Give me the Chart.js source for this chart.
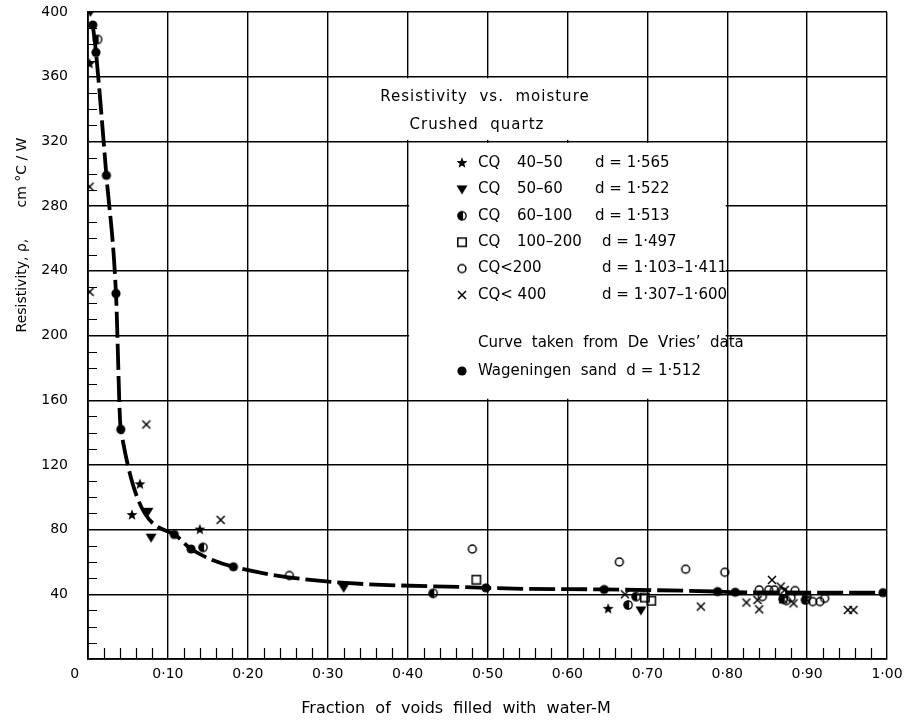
<!DOCTYPE html>
<html>
<head>
<meta charset="utf-8">
<script src="https://cdn.jsdelivr.net/npm/chart.js@4.4.0/dist/chart.umd.min.js"></script>
<style>
  html, body { margin: 0; padding: 0; background: #fff; }
  canvas { display: block; }
</style>
</head>
<body>
<canvas id="grafico" width="912" height="724"></canvas>
<script>
// Wageningen sand (curve from De Vries' data)
const wagX = [0.006, 0.010, 0.023, 0.035, 0.041, 0.108, 0.129, 0.182, 0.498, 0.646, 0.788, 0.810, 0.995];
const wagY = [392, 375, 299, 226, 142, 77, 68, 57, 44, 43, 41.7, 41.3, 41];

// CQ 40-50
const cq40X = [0.002, 0.055, 0.065, 0.140, 0.651];
const cq40Y = [368, 89, 108, 80, 31];
// CQ 50-60
const cq50X = [0.003, 0.075, 0.079, 0.320, 0.692];
const cq50Y = [400, 91, 75, 44, 30];
// CQ 60-100
const cq60X = [0.012, 0.144, 0.432, 0.676, 0.686, 0.870, 0.898];
const cq60Y = [383, 69, 40.6, 33.4, 38.6, 37, 36.5];
// CQ 100-200
const cq100X = [0.486, 0.697, 0.705];
const cq100Y = [49, 38, 36];
// CQ<200
const cq200X = [0.252, 0.481, 0.665, 0.748, 0.797, 0.840, 0.844, 0.852, 0.859, 0.870, 0.874, 0.880, 0.885, 0.900, 0.907, 0.916, 0.922];
const cq200Y = [51.6, 68, 60, 55.5, 53.6, 42.7, 38.6, 42.7, 42.7, 41.3, 36.1, 38, 42.3, 38.6, 35.5, 35.5, 37.5];
// CQ<400
const cq400X = [0.002, 0.002, 0.073, 0.166, 0.672, 0.767, 0.824, 0.838, 0.840, 0.856, 0.867, 0.872, 0.870, 0.883, 0.899, 0.951, 0.958];
const cq400Y = [292, 227, 145, 86, 40, 32.4, 34.9, 36.5, 30.7, 48.9, 44.8, 42.7, 36.9, 34.4, 36.9, 30.3, 30.3];

const xTicks = ["0      ", "0·10", "0·20", "0·30", "0·40", "0·50", "0·60", "0·70", "0·80", "0·90", "1·00"];
const yTicks = ["", "40", "80", "120", "160", "200", "240", "280", "320", "360", "400"];

const puntos = (xs, ys) => xs.map((x, i) => ({ x: x, y: ys[i] }));

// marcadores dibujados en pequeños canvas
const marcador = (size, draw) => {
    const c = document.createElement("canvas");
    c.width = size; c.height = size;
    const g = c.getContext("2d");
    g.fillStyle = "#000"; g.strokeStyle = "#000";
    draw(g, size / 2);
    return c;
};
const mkDot = marcador(12, (g, m) => { g.beginPath(); g.arc(m, m, 4.6, 0, Math.PI * 2); g.fill(); });
const mkCircle = marcador(12, (g, m) => { g.lineWidth = 1.5; g.beginPath(); g.arc(m, m, 3.9, 0, Math.PI * 2); g.stroke(); });
const mkSquare = marcador(12, (g, m) => { g.lineWidth = 1.5; g.strokeRect(m - 4.2, m - 4.2, 8.4, 8.4); });
const mkTri = marcador(14, (g, m) => {
    g.beginPath(); g.moveTo(m - 5.5, m - 4); g.lineTo(m + 5.5, m - 4); g.lineTo(m, m + 5); g.closePath(); g.fill();
});
const mkCross = marcador(12, (g, m) => {
    g.lineWidth = 1.5; g.beginPath();
    g.moveTo(m - 4, m - 4); g.lineTo(m + 4, m + 4); g.moveTo(m + 4, m - 4); g.lineTo(m - 4, m + 4); g.stroke();
});
const mkStar = marcador(14, (g, m) => {
    g.beginPath();
    for (let i = 0; i < 10; i++) {
        const r = i % 2 === 0 ? 5.8 : 2.4;
        const a = -Math.PI / 2 + i * Math.PI / 5;
        g.lineTo(m + r * Math.cos(a), m + r * Math.sin(a));
    }
    g.closePath(); g.fill();
});
const mkHalf = marcador(12, (g, m) => {
    g.beginPath(); g.arc(m, m, 4.4, Math.PI * 0.42, Math.PI * 1.58); g.closePath(); g.fill();
    g.lineWidth = 1.4; g.beginPath(); g.arc(m, m, 4.1, 0, Math.PI * 2); g.stroke();
});

const fuente = "'DejaVu Sans', sans-serif";

const fondoYCajas = {
    id: "fondoYCajas",
    beforeDraw(chart) {
        const ctx = chart.ctx;
        ctx.save();
        ctx.fillStyle = "#fff";
        ctx.fillRect(0, 0, chart.width, chart.height);
        ctx.restore();
    },
    beforeDatasetsDraw(chart) {
        const ctx = chart.ctx;
        const sx = chart.scales.x, sy = chart.scales.y;
        const area = chart.chartArea;
        ctx.save();
        // cajas de texto sin cuadrícula
        ctx.fillStyle = "#fff";
        const caja = (x0, x1, y0, y1) => {
            const a = sx.getPixelForValue(x0) + 1.5, b = sx.getPixelForValue(x1) - 1.5;
            const t = sy.getPixelForValue(y1) + 1.5, u = sy.getPixelForValue(y0) - 1.5;
            ctx.fillRect(a, t, b - a, u - t);
        };
        caja(0.30, 0.70, 320, 360);
        caja(0.40, 0.80, 160, 320);

        // marcas menores
        ctx.strokeStyle = "#000";
        ctx.lineWidth = 1.2;
        ctx.beginPath();
        for (let v = 10; v < 400; v += 10) {
            if (v % 40 === 0) continue;
            const y = Math.round(sy.getPixelForValue(v)) + 0.5;
            ctx.moveTo(area.left, y); ctx.lineTo(area.left + 9, y);
        }
        for (let k = 1; k < 50; k++) {
            if (k % 5 === 0) continue;
            const x = Math.round(sx.getPixelForValue(k * 0.02)) + 0.5;
            ctx.moveTo(x, area.bottom); ctx.lineTo(x, area.bottom - 11);
        }
        ctx.stroke();

        // textos
        ctx.fillStyle = "#000";
        ctx.textBaseline = "middle";
        ctx.font = "15px " + fuente;
        ctx.letterSpacing = "1px";
        ctx.textAlign = "center";
        ctx.fillText("Resistivity  vs.  moisture", 485, 97);
        ctx.fillText("Crushed  quartz", 477, 125);
        ctx.letterSpacing = "0px";

        ctx.textAlign = "left";
        const filas = [
            [mkStar, "CQ", "40–50", "d = 1·565", 595],
            [mkTri, "CQ", "50–60", "d = 1·522", 595],
            [mkHalf, "CQ", "60–100", "d = 1·513", 595],
            [mkSquare, "CQ", "100–200", "d = 1·497", 602],
            [mkCircle, "CQ<200", "", "d = 1·103–1·411", 602],
            [mkCross, "CQ< 400", "", "d = 1·307–1·600", 602]
        ];
        filas.forEach((f, i) => {
            const y = 163 + i * 26.4;
            ctx.drawImage(f[0], 462 - f[0].width / 2, y - f[0].height / 2);
            ctx.fillText(f[1], 478, y);
            if (f[2]) ctx.fillText(f[2], 517, y);
            ctx.fillText(f[3], f[4], y);
        });
        ctx.fillText("Curve  taken  from  De  Vries’  data", 478, 343);
        ctx.drawImage(mkDot, 462 - 6, 371 - 6);
        ctx.fillText("Wageningen  sand  d = 1·512", 478, 371);

        // título del eje x
        ctx.textAlign = "center";
        ctx.font = "16px " + fuente;
        ctx.fillText("Fraction  of  voids  filled  with  water-M", 456, 709);

        // título del eje y
        ctx.font = "14px " + fuente;
        ctx.translate(22, 235);
        ctx.rotate(-Math.PI / 2);
        ctx.fillText("Resistivity, ρ,       cm °C / W", 0, 0);
        ctx.restore();
    }
};

const serie = (label, xs, ys, estilo) => ({
    label: label,
    data: puntos(xs, ys),
    pointStyle: estilo,
    showLine: false,
    borderColor: "#000",
    backgroundColor: "#000"
});

const ctx = document.getElementById("grafico").getContext("2d");
new Chart(ctx, {
    type: "scatter",
    data: {
        datasets: [
            {
                label: "Wageningen sand d=1.512",
                data: puntos(wagX, wagY),
                showLine: true,
                borderColor: "#000",
                backgroundColor: "#000",
                borderWidth: 3.8,
                borderDash: [26, 6],
                cubicInterpolationMode: "monotone",
                pointStyle: mkDot
            },
            serie("CQ 40-50", cq40X, cq40Y, mkStar),
            serie("CQ 50-60", cq50X, cq50Y, mkTri),
            serie("CQ 60-100", cq60X, cq60Y, mkHalf),
            serie("CQ 100-200", cq100X, cq100Y, mkSquare),
            serie("CQ<200", cq200X, cq200Y, mkCircle),
            serie("CQ<400", cq400X, cq400Y, mkCross)
        ]
    },
    options: {
        responsive: false,
        animation: false,
        devicePixelRatio: 1,
        layout: { padding: { top: 12, right: 25, left: 0, bottom: 0 } },
        plugins: { legend: { display: false }, tooltip: { enabled: false } },
        scales: {
            x: {
                type: "linear",
                min: 0,
                max: 1,
                afterFit: (scale) => {
                    scale.height = 65;
                    scale.paddingLeft = 0;
                    scale.paddingRight = 0;
                },
                grid: { color: "#000", lineWidth: 1.4, drawTicks: false },
                border: { display: true, color: "#000", width: 1.8 },
                ticks: {
                    stepSize: 0.1,
                    padding: 7,
                    color: "#000",
                    font: { family: fuente, size: 14 },
                    maxRotation: 0,
                    callback: (v, i) => xTicks[i]
                }
            },
            y: {
                type: "linear",
                min: 0,
                max: 400,
                afterFit: (scale) => {
                    scale.width = 88;
                    scale.paddingTop = 0;
                    scale.paddingBottom = 0;
                },
                grid: { color: "#000", lineWidth: 1.4, drawTicks: false },
                border: { display: true, color: "#000", width: 1.8 },
                ticks: {
                    stepSize: 40,
                    padding: 20,
                    color: "#000",
                    font: { family: fuente, size: 14 },
                    callback: (v, i) => yTicks[i]
                }
            }
        }
    },
    plugins: [fondoYCajas]
});
</script>
</body>
</html>
